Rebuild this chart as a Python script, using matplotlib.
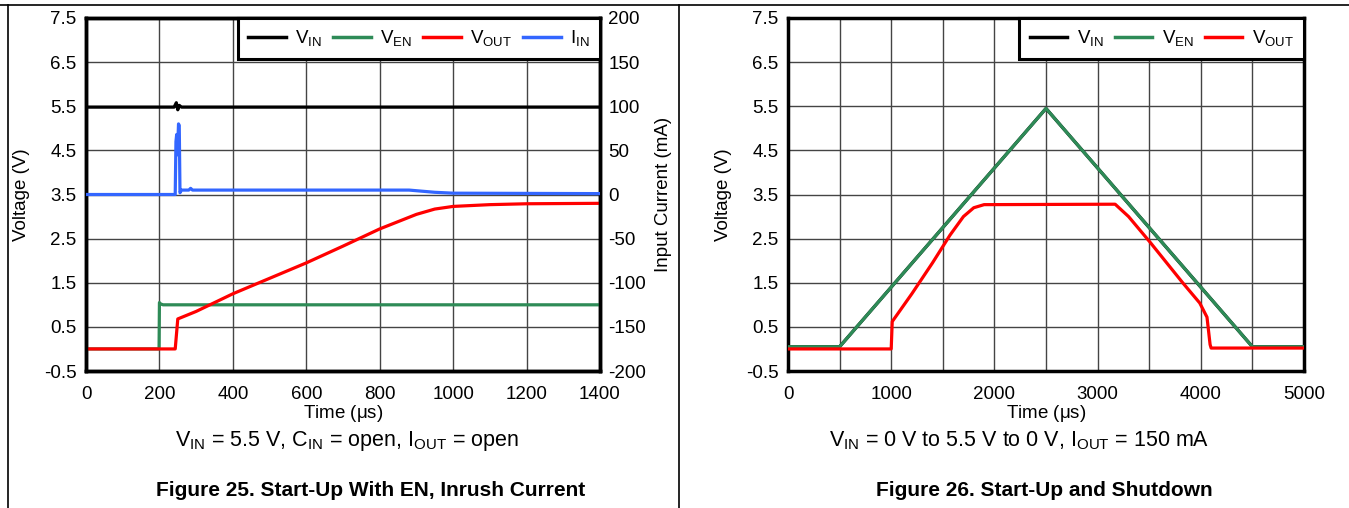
import matplotlib.pyplot as plt
from matplotlib.lines import Line2D

plt.rcParams['font.family'] = ['Liberation Sans', 'DejaVu Sans']
plt.rcParams['mathtext.fontset'] = 'custom'
plt.rcParams['mathtext.rm'] = 'Liberation Sans'
plt.rcParams['mathtext.it'] = 'Liberation Sans'
plt.rcParams['axes.unicode_minus'] = False

# Figure 25 - start-up with EN (time in us)
t_vin = [0, 240, 246, 250, 254, 260, 1400]
vin = [5.48, 5.48, 5.58, 5.42, 5.52, 5.48, 5.48]

t_ven = [0, 199, 200, 203, 210, 1400]
ven = [0.0, 0.0, 1.05, 1.02, 1.0, 1.0]

t_vout = [0, 243, 250, 300, 400, 500, 600, 700, 800, 900, 950, 1000, 1100, 1200, 1400]
vout = [0.0, 0.0, 0.68, 0.85, 1.25, 1.6, 1.95, 2.33, 2.72, 3.05, 3.17, 3.23, 3.27, 3.29, 3.3]

t_iin = [0, 243, 245, 247, 249, 252, 254, 256, 260, 280, 285, 290, 880, 950, 1000, 1400]
iin = [0, 0, 60, 68, 45, 80, 78, 2, 5, 5, 7, 5, 5, 2.5, 1.5, 1.0]

# Figure 26 - start-up and shutdown
t_ramp = [0, 500, 2500, 4500, 5000]
vin2 = [0.05, 0.05, 5.45, 0.05, 0.05]
ven2 = [0.05, 0.05, 5.45, 0.05, 0.05]

t_vout2 = [0, 1000, 1010, 1200, 1400, 1570, 1700, 1800, 1900, 3170, 3300, 3508, 3828, 3990, 4060, 4090, 4100, 5000]
vout2 = [0.0, 0.0, 0.62, 1.25, 1.95, 2.58, 3.0, 3.2, 3.27, 3.28, 3.0, 2.42, 1.49, 1.04, 0.72, 0.1, 0.02, 0.02]

c_black = 'black'
c_green = '#2e8b57'
c_red = '#ff0000'
c_blue = '#3366ff'

fig = plt.figure(figsize=(13.49, 5.08), dpi=100)

# table frame lines
fig.add_artist(Line2D([0, 1], [1 - 5 / 508, 1 - 5 / 508], color='black', lw=1.2))
fig.add_artist(Line2D([8 / 1349, 8 / 1349], [0, 1 - 5 / 508], color='black', lw=1.2))
fig.add_artist(Line2D([679 / 1349, 679 / 1349], [0, 1 - 5 / 508], color='black', lw=1.2))

ax_l = fig.add_axes([86 / 1349, 1 - 371 / 508, 514 / 1349, 353 / 508])
ax_r = fig.add_axes([788 / 1349, 1 - 371 / 508, 516 / 1349, 353 / 508])

vticks = [-0.5, 0.5, 1.5, 2.5, 3.5, 4.5, 5.5, 6.5, 7.5]
fs_tick = 13.5
fs_lab = 13.5


def style(ax):
    ax.set_ylim(-0.5, 7.5)
    ax.set_yticks(vticks)
    ax.set_yticklabels([str(v) for v in vticks])
    ax.grid(True, color='#444444', lw=1.0)
    ax.set_axisbelow(True)
    ax.tick_params(length=0, labelsize=fs_tick, pad=7)
    ax.tick_params(axis='x', pad=11)
    for s in ax.spines.values():
        s.set_linewidth(2.5)
    ax.set_ylabel('Voltage (V)', fontsize=fs_lab, labelpad=10)


style(ax_l)
ax_l.set_xlim(0, 1400)
ax_l.set_xticks(range(0, 1401, 200))
ax_l.set_xlabel('Time ($\\mu$s)', fontsize=fs_lab, labelpad=0)

lw = 2.3
ax_l.plot(t_vin, vin, color=c_black, lw=lw, zorder=3)
ax_l.plot(t_ven, ven, color=c_green, lw=lw, zorder=3)
ax_l.plot(t_vout, vout, color=c_red, lw=lw, zorder=4)

ax_i = ax_l.twinx()
ax_i.set_ylim(-200, 200)
ax_i.set_yticks(range(-200, 201, 50))
ax_i.tick_params(length=0, labelsize=fs_tick, pad=6)
ax_i.plot(t_iin, iin, color=c_blue, lw=lw, zorder=3)
ax_i.set_ylabel('Input Current (mA)', fontsize=fs_lab, labelpad=6)
for s in ax_i.spines.values():
    s.set_linewidth(2.5)

handles = [Line2D([], [], color=c, lw=2.5) for c in (c_black, c_green, c_red, c_blue)]
labels = ['V$_{\\mathrm{IN}}$', 'V$_{\\mathrm{EN}}$', 'V$_{\\mathrm{OUT}}$', 'I$_{\\mathrm{IN}}$']
leg_kw = dict(loc='upper right', fontsize=13.5, borderaxespad=0, fancybox=False, framealpha=1,
              edgecolor='black', handlelength=2.0, columnspacing=0.6, handletextpad=0.5,
              borderpad=0.55)
leg = ax_i.legend(handles, labels, ncol=4, **leg_kw)
leg.get_frame().set_linewidth(2.2)

style(ax_r)
ax_r.set_xlim(0, 5000)
ax_r.set_xticks(range(0, 5001, 500))
ax_r.set_xticklabels([str(v) if v % 1000 == 0 else '' for v in range(0, 5001, 500)])
ax_r.set_xlabel('Time ($\\mu$s)', fontsize=fs_lab, labelpad=0)
ax_r.plot(t_ramp, vin2, color=c_black, lw=lw, zorder=3)
ax_r.plot(t_ramp, ven2, color=c_green, lw=lw, zorder=3)
ax_r.plot(t_vout2, vout2, color=c_red, lw=lw, zorder=4)
leg2 = ax_r.legend(handles[:3], labels[:3], ncol=3, **leg_kw)
leg2.get_frame().set_linewidth(2.2)

# captions
fig.text(347 / 1349, 1 - 441 / 508, 'V$_{\\mathrm{IN}}$ = 5.5 V, C$_{\\mathrm{IN}}$ = open, I$_{\\mathrm{OUT}}$ = open',
         ha='center', va='center', fontsize=15.5)
fig.text(1019 / 1349, 1 - 441 / 508, 'V$_{\\mathrm{IN}}$ = 0 V to 5.5 V to 0 V, I$_{\\mathrm{OUT}}$ = 150 mA',
         ha='center', va='center', fontsize=15.5)
fig.text(371 / 1349, 1 - 490 / 508, 'Figure 25. Start-Up With EN, Inrush Current',
         ha='center', va='center', fontsize=15, fontweight='bold')
fig.text(1044 / 1349, 1 - 490 / 508, 'Figure 26. Start-Up and Shutdown',
         ha='center', va='center', fontsize=15, fontweight='bold')

fig.savefig('out.png', dpi=100)
